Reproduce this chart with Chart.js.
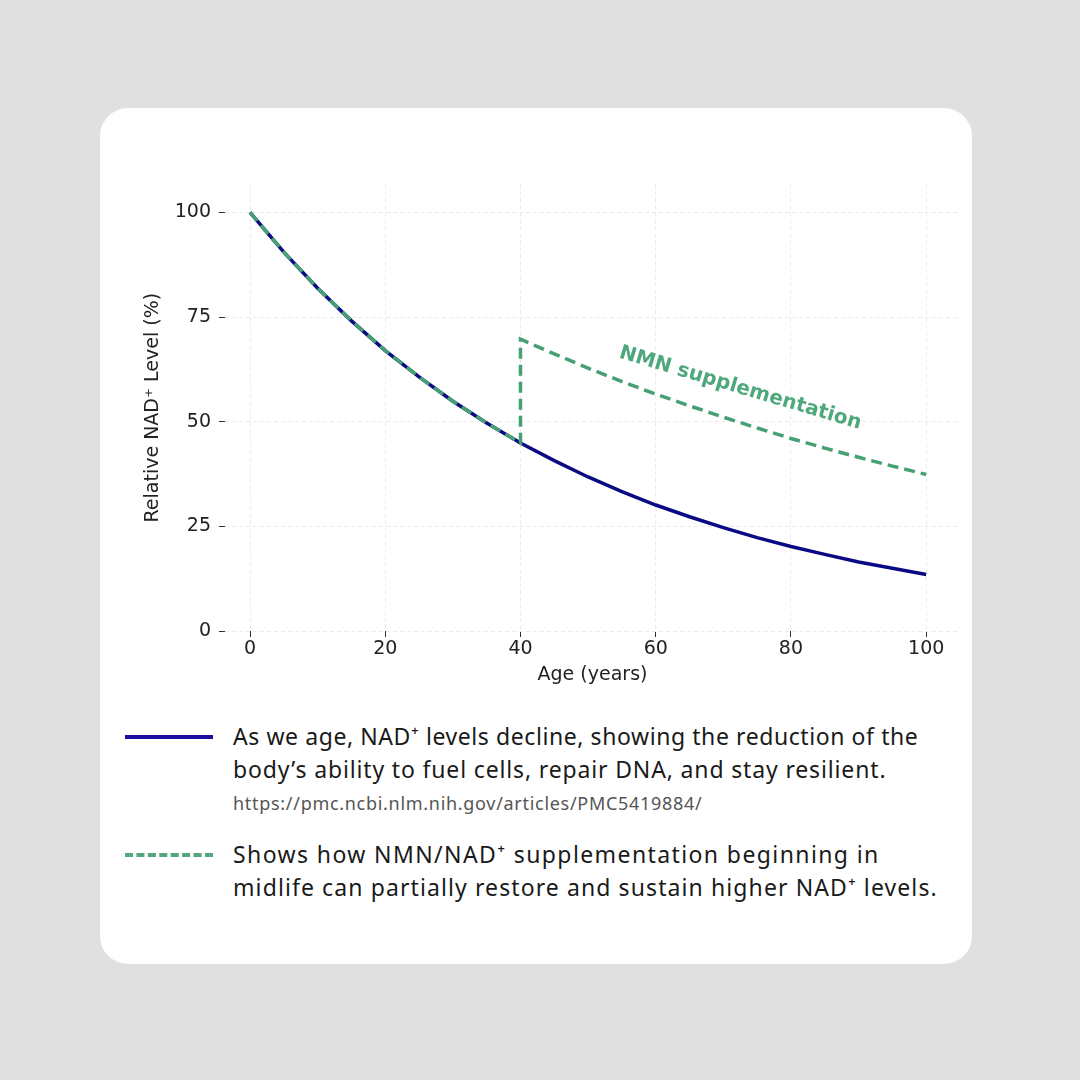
<!DOCTYPE html>
<html>
<head>
<meta charset="utf-8">
<script src="https://cdn.jsdelivr.net/npm/chart.js@4.4.1/dist/chart.umd.min.js"></script>
<style>
  html, body { margin: 0; padding: 0; }
  body { width: 1080px; height: 1080px; background: #e0e0e0; position: relative; overflow: hidden; }
  .card { position: absolute; left: 100px; top: 108px; width: 872px; height: 856px; background: #fff; border-radius: 28px; }
  #nadChart { position: absolute; left: 130px; top: 165px; }
  .legend { position: absolute; left: 125px; width: 860px; font-family: "Noto Sans", sans-serif; color: #1a1a1a; white-space: nowrap; }
  .legend .row { position: relative; padding-left: 108px; font-size: 23px; line-height: 33px; }
  .legend .row span.l { display: block; }
  .legend .swatch { position: absolute; left: 0; top: 15px; width: 88px; height: 0; }
  .legend .src { font-size: 18px; letter-spacing: 0.7px; color: #555; line-height: 22px; margin-top: 6px; }
</style>
</head>
<body>
<div class="card"></div>
<canvas id="nadChart" width="840" height="530"></canvas>

<div class="legend" style="top:720px">
  <div class="row"><span class="swatch" style="border-top:4px solid #1c0fa0"></span>
    <span class="l" style="letter-spacing:0.58px">As we age, NAD⁺ levels decline, showing the reduction of the</span>
    <span class="l" style="letter-spacing:0.85px">body’s ability to fuel cells, repair DNA, and stay resilient.</span>
    <div class="src">https://pmc.ncbi.nlm.nih.gov/articles/PMC5419884/</div>
  </div>
</div>
<div class="legend" style="top:838px">
  <div class="row"><span class="swatch" style="border-top:4px dashed #52a87c"></span>
    <span class="l" style="letter-spacing:1.4px">Shows how NMN/NAD⁺ supplementation beginning in</span>
    <span class="l" style="letter-spacing:1.1px">midlife can partially restore and sustain higher NAD⁺ levels.</span>
  </div>
</div>

<script>
// values
const ages = [0, 5, 10, 15, 20, 25, 30, 35, 40, 45, 50, 55, 60, 65, 70, 75, 80, 85, 90, 95, 100];
const declineLevels = [100, 90.5, 81.9, 74.1, 67.0, 60.7, 54.9, 49.7, 44.9, 40.7, 36.8, 33.3, 30.1, 27.3, 24.7, 22.3, 20.2, 18.3, 16.5, 15.0, 13.5];

const supplementAges = [0, 5, 10, 15, 20, 25, 30, 35, 40, 40, 45, 50, 55, 60, 65, 70, 75, 80, 85, 90, 95, 100];
const supplementLevels = [100, 90.5, 81.9, 74.1, 67.0, 60.7, 54.9, 49.7, 44.9, 69.7, 66.2, 62.8, 59.6, 56.6, 53.8, 51.1, 48.5, 46.0, 43.7, 41.5, 39.4, 37.4];

const xTicks = [0, 20, 40, 60, 80, 100];
const yTicks = [0, 25, 50, 75, 100];

const labelText = "NMN supplementation";
const labelAge = 72.5, labelLevel = 58;

const navy = "#0a0a85";
const green = "#45a073";

const toPoints = (xs, ys) => xs.map((x, i) => ({ x: x, y: ys[i] }));

// rotated label over the dashed line
const nmnLabel = {
  id: "nmnLabel",
  afterDatasetsDraw(chart) {
    const { ctx, scales: { x, y } } = chart;
    ctx.save();
    ctx.translate(x.getPixelForValue(labelAge), y.getPixelForValue(labelLevel));
    ctx.rotate(16.5 * Math.PI / 180);
    ctx.font = 'bold 20px "DejaVu Sans"';
    ctx.fillStyle = "#4fa87c";
    ctx.textAlign = "center";
    ctx.textBaseline = "middle";
    ctx.fillText(labelText, 0, 0);
    ctx.restore();
  }
};

const tickFont = { family: "DejaVu Sans", size: 19 };
const gridOpts = { color: "#ebebeb", lineWidth: 1, drawTicks: true, tickLength: 6, tickColor: "#333", tickWidth: 1 };

new Chart(document.getElementById("nadChart"), {
  type: "line",
  data: {
    datasets: [
      {
        data: toPoints(ages, declineLevels),
        borderColor: navy, borderWidth: 3.5, pointRadius: 0, tension: 0, order: 2
      },
      {
        data: toPoints(supplementAges, supplementLevels),
        borderColor: green, borderWidth: 3.5, borderDash: [11, 6], pointRadius: 0, tension: 0, order: 1
      }
    ]
  },
  options: {
    responsive: false,
    animation: false,
    layout: { padding: { top: 8, right: 10, left: 0, bottom: 0 } },
    plugins: { legend: { display: false }, tooltip: { enabled: false } },
    scales: {
      x: {
        type: "linear", min: -3.7, max: 105,
        afterBuildTicks: s => { s.ticks = xTicks.map(v => ({ value: v })); },
        afterFit: s => { s.height = 64; },
        grid: gridOpts,
        border: { display: false, dash: [4, 3] },
        ticks: { font: tickFont, color: "#222", padding: 1 },
        title: { display: true, text: "Age (years)", font: tickFont, color: "#222", padding: { top: 0, bottom: 9 } }
      },
      y: {
        type: "linear", min: 0, max: 106.7,
        afterBuildTicks: s => { s.ticks = yTicks.map(v => ({ value: v })); },
        afterFit: s => { s.width = 95; },
        grid: gridOpts,
        border: { display: false, dash: [4, 3] },
        ticks: { font: tickFont, color: "#222", padding: 8 },
        title: { display: true, text: "Relative NAD⁺ Level (%)", font: tickFont, color: "#222", padding: { top: 12, bottom: 0 } }
      }
    }
  },
  plugins: [nmnLabel]
});
</script>
</body>
</html>
